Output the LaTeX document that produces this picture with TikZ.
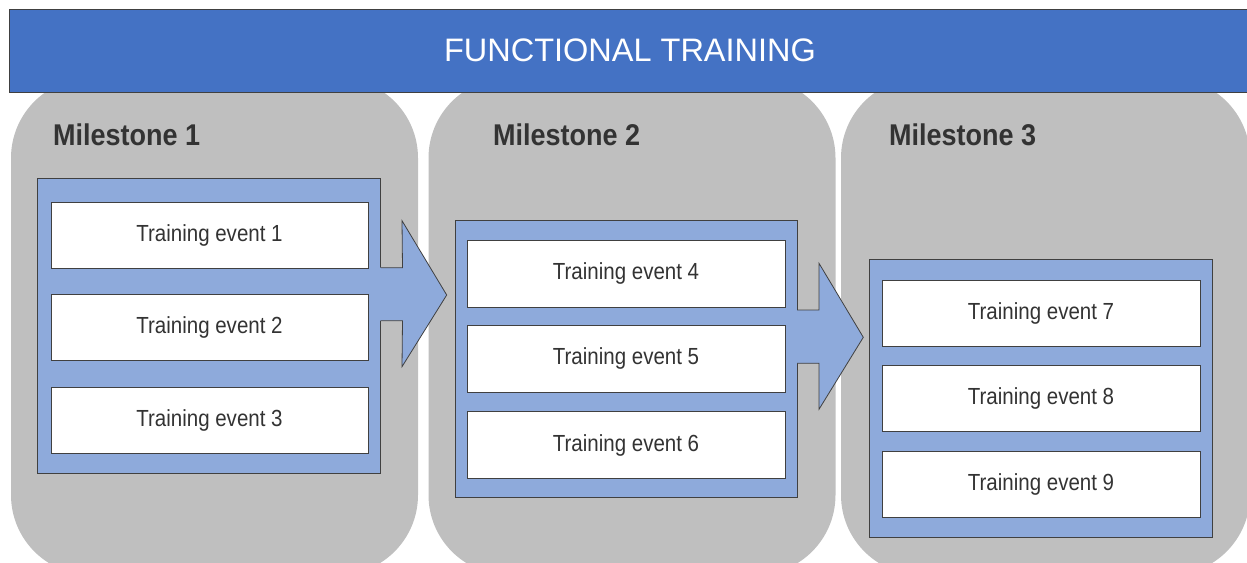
\documentclass[tikz,border=0pt]{standalone}
\usepackage{fontspec}
\setmainfont{Liberation Sans}
\newfontfamily\narrowfont[FakeStretch=0.88]{Liberation Sans}
\newfontfamily\labelfont[FakeStretch=0.9]{Liberation Sans}
\definecolor{hdrblue}{HTML}{4472C4}
\definecolor{msgray}{HTML}{BFBFBF}
\definecolor{panelblue}{HTML}{8EAADB}
\definecolor{edge}{HTML}{404040}
\definecolor{txt}{HTML}{333333}
\tikzset{
  header/.style={draw=edge, line width=0.8pt, fill=hdrblue, minimum width=1243pt, minimum height=83pt, inner sep=0pt},
  msbox/.style={fill=msgray, rounded corners=80pt, minimum width=407pt, minimum height=497pt, inner sep=0pt},
  panel/.style={draw=edge, line width=0.8pt, fill=panelblue, minimum width=343pt, inner sep=0pt},
  evt/.style={draw=edge, line width=0.8pt, fill=white, minimum width=318pt, minimum height=66pt, inner sep=0pt,
    text=txt, font=\narrowfont\fontsize{23.3}{26}\selectfont},
  mslabel/.style={anchor=base west, inner sep=0pt, text=txt, font=\labelfont\bfseries\fontsize{30}{33}\selectfont},
  arrowfill/.style={fill=panelblue},
  arrowedge/.style={draw=edge, line width=0.8pt, line join=miter}
}
\begin{document}
\begin{tikzpicture}[x=1pt,y=-1pt]
\useasboundingbox (0,0) rectangle (1247,562);
\begin{scope}
\clip (0,0) rectangle (1247,562);
% milestone backgrounds
\node[msbox] (m1) at (214.5,326.5) {};
\node[msbox] (m2) at (632,326.5) {};
\node[msbox, minimum width=409pt] (m3) at (1045.5,326.5) {};
% header
\node[header] (hdr) at (630.5,50.5) {};
\end{scope}
\node[text=white, font=\fontsize{32.5}{36}\selectfont, inner sep=0pt] (title) at (630,50) {FUNCTIONAL TRAINING};
% milestone labels
\node[mslabel] (l1) at (53,145) {Milestone 1};
\node[mslabel] (l2) at (493,145) {Milestone 2};
\node[mslabel] (l3) at (889,145) {Milestone 3};
% panels
\node[panel, minimum height=295pt] (p1) at (209,325.5) {};
\node[panel, minimum width=342pt, minimum height=277pt] (p2) at (626,358.5) {};
\node[panel, minimum height=278pt] (p3) at (1040.5,398) {};
% arrows
\fill[arrowfill] (379,267.7) -- (402.5,267.7) -- (402,220.7) -- (446.7,295) -- (402,366.7) -- (402.5,320.7) -- (379,320.7) -- cycle;
\draw[arrowedge] (381,267.7) -- (402.5,267.7) -- (402,220.7) -- (446.7,295) -- (402,366.7) -- (402.5,320.7) -- (381,320.7);
\fill[arrowfill] (795.5,310) -- (819,310) -- (819,263.3) -- (863.3,337.3) -- (819,409.3) -- (819,363.3) -- (795.5,363.3) -- cycle;
\draw[arrowedge] (797,310) -- (819,310) -- (819,263.3) -- (863.3,337.3) -- (819,409.3) -- (819,363.3) -- (797,363.3);
% events
\node[evt, minimum width=317pt] (e1) at (209.5,235) {Training event 1};
\node[evt, minimum width=317pt] (e2) at (209.5,327.5) {Training event 2};
\node[evt, minimum width=317pt] (e3) at (209.5,420) {Training event 3};
\node[evt, minimum height=67pt] (e4) at (626,273.5) {Training event 4};
\node[evt, minimum height=67pt] (e5) at (626,358.5) {Training event 5};
\node[evt, minimum height=67pt] (e6) at (626,445) {Training event 6};
\node[evt] (e7) at (1041,313) {Training event 7};
\node[evt] (e8) at (1041,398.5) {Training event 8};
\node[evt] (e9) at (1041,484.5) {Training event 9};
\end{tikzpicture}
\end{document}
